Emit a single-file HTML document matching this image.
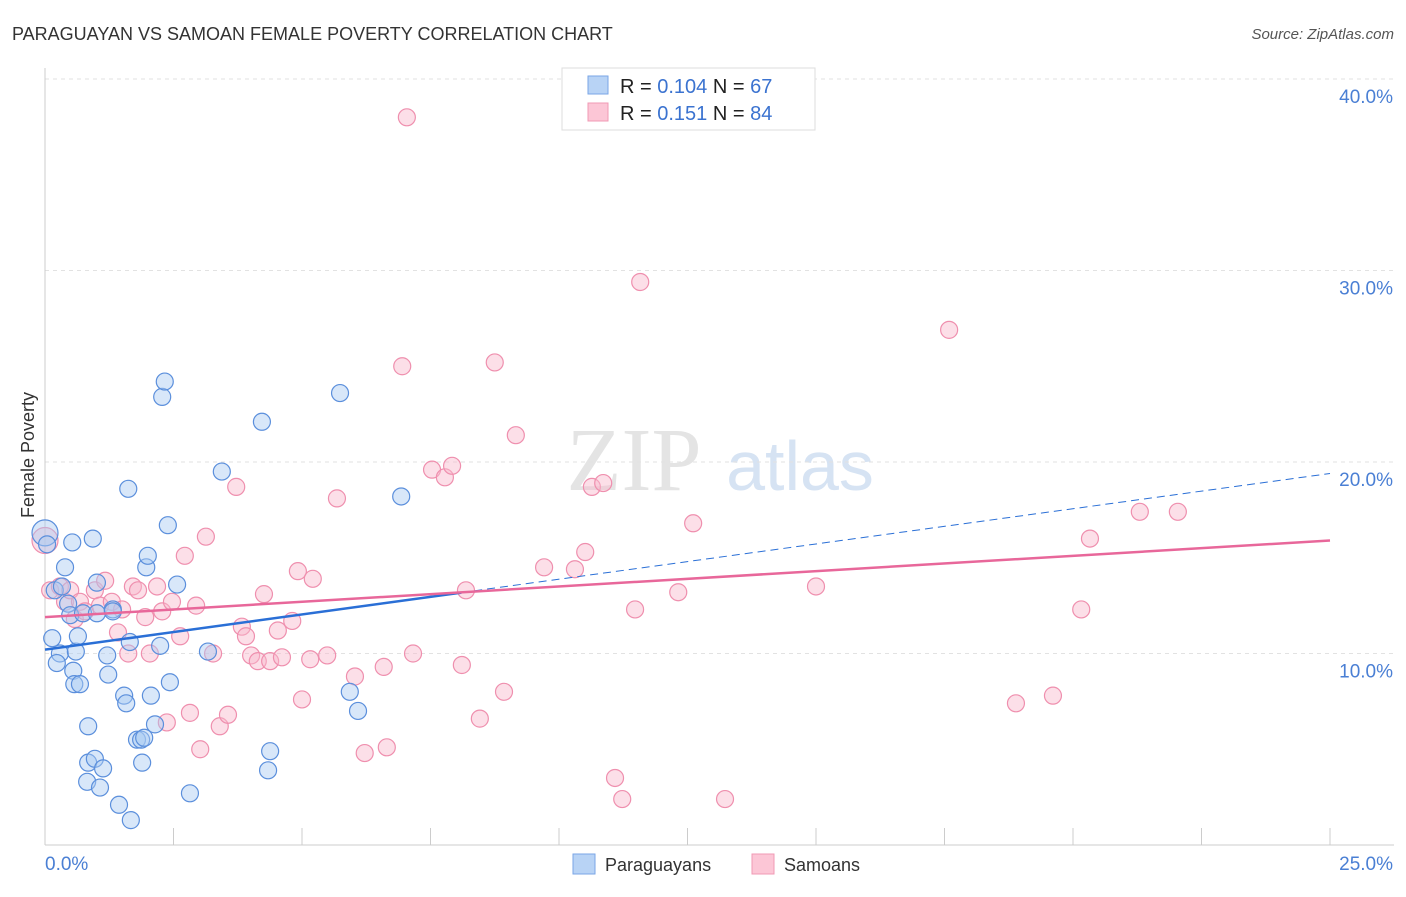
<!DOCTYPE html>
<html><head><meta charset="utf-8"><style>
body{margin:0;background:#fff;font-family:"Liberation Sans",sans-serif}
</style></head><body>
<svg id="c" width="1406" height="892" xmlns="http://www.w3.org/2000/svg" font-family="Liberation Sans, sans-serif">
<text x="12" y="40" font-size="18" fill="#333">PARAGUAYAN VS SAMOAN FEMALE POVERTY CORRELATION CHART</text>
<text x="1394" y="39" font-size="15" fill="#555" font-style="italic" text-anchor="end">Source: ZipAtlas.com</text>
<text x="634" y="490" font-size="90" fill="#e4e4e4" font-family="Liberation Serif, serif" text-anchor="middle">ZIP</text>
<text x="800" y="490" font-size="70" fill="#d6e3f3" text-anchor="middle">atlas</text>
<text transform="translate(34,455) rotate(-90)" font-size="18" fill="#333" text-anchor="middle">Female Poverty</text>
<g id="grid"></g><g id="pts"></g><g id="lines"></g>
<g>
<rect x="562" y="68" width="253" height="62" fill="#fff" stroke="#ddd"/>
<rect x="588" y="76" width="20" height="18" fill="#b8d3f5" stroke="#7aa6e6"/>
<rect x="588" y="103" width="20" height="18" fill="#fcc6d6" stroke="#f09ab4"/>
<text x="620" y="93" font-size="20" fill="#222">R = <tspan fill="#3b73d0">0.104</tspan>   N = <tspan fill="#3b73d0">67</tspan></text>
<text x="620" y="120" font-size="20" fill="#222">R =  <tspan fill="#3b73d0">0.151</tspan>   N = <tspan fill="#3b73d0">84</tspan></text>
</g>
<g>
<rect x="573" y="854" width="22" height="20" fill="#b8d3f5" stroke="#7aa6e6"/>
<text x="605" y="871" font-size="18" fill="#333">Paraguayans</text>
<rect x="752" y="854" width="22" height="20" fill="#fcc6d6" stroke="#f09ab4"/>
<text x="784" y="871" font-size="18" fill="#333">Samoans</text>
</g>
</svg>
<script>
const xTicks=[0,2.5,5,7.5,10,12.5,15,17.5,20,22.5,25];
const yTicks=[10,20,30,40];
const yTickLabels=["10.0%","20.0%","30.0%","40.0%"];
const xEndLabels=["0.0%","25.0%"];
const blueX=[0,0.04,0.19,0.29,0.14,0.23,0.33,0.39,0.45,0.49,0.53,0.55,0.57,0.6,0.64,0.68,0.74,0.84,0.84,0.82,0.93,0.97,1.01,1.01,1.07,1.13,1.21,1.23,1.32,1.44,1.54,1.58,1.62,1.65,1.67,1.79,1.87,1.89,1.93,1.97,2.0,2.06,2.14,2.24,2.28,2.33,2.39,2.43,2.57,2.82,3.17,3.44,4.22,4.34,4.38,5.74,5.93,6.09,6.93,1.32];
const blueY=[16.3,15.7,13.3,10.0,10.8,9.5,13.5,14.5,12.6,12.0,15.8,9.1,8.4,10.1,10.9,8.4,12.1,6.2,4.3,3.3,16.0,4.5,13.7,12.1,3.0,4.0,9.9,8.9,12.3,2.1,7.8,7.4,18.6,10.6,1.3,5.5,5.5,4.3,5.6,14.5,15.1,7.8,6.3,10.4,23.4,24.2,16.7,8.5,13.6,2.7,10.1,19.5,22.1,3.9,4.9,23.6,8.0,7.0,18.2,12.2];
const pinkX=[0,0.1,0.29,0.39,0.49,0.58,0.68,0.78,0.97,1.07,1.17,1.3,1.42,1.5,1.62,1.71,1.81,1.95,2.04,2.18,2.28,2.37,2.47,2.63,2.72,2.82,2.94,3.02,3.13,3.27,3.4,3.56,3.72,3.83,3.91,4.01,4.14,4.26,4.38,4.53,4.61,4.81,4.92,5.0,5.16,5.21,5.49,5.68,6.03,6.22,6.59,6.65,6.95,7.04,7.16,7.53,7.78,7.92,8.11,8.19,8.46,8.75,8.93,9.16,9.71,10.31,10.51,10.64,10.86,11.09,11.23,11.48,11.58,12.32,12.61,13.23,15.0,17.59,18.89,19.61,20.16,20.33,21.3,22.04];
const pinkY=[15.9,13.3,13.5,12.7,13.3,11.8,12.7,12.2,13.3,12.5,13.8,12.7,11.1,12.3,10.0,13.5,13.3,11.9,10.0,13.5,12.2,6.4,12.7,10.9,15.1,6.9,12.5,5.0,16.1,10.0,6.2,6.8,18.7,11.4,10.9,9.9,9.6,13.1,9.6,11.2,9.8,11.7,14.3,7.6,9.7,13.9,9.9,18.1,8.8,4.8,9.3,5.1,25.0,38.0,10.0,19.6,19.2,19.8,9.4,13.3,6.6,25.2,8.0,21.4,14.5,14.4,15.3,18.7,18.9,3.5,2.4,12.3,29.4,13.2,16.8,2.4,13.5,26.9,7.4,7.8,12.3,16.0,17.4,17.4];
const blueFit=[10.2,19.4], pinkFit=[11.9,15.9], blueSolidEnd=8.1;
const X=v=>45+v/25*1285, Y=v=>845-v*19.15;
const NS="http://www.w3.org/2000/svg";
function mk(p,t,a){const e=document.createElementNS(NS,t);for(const k in a)e.setAttribute(k,a[k]);p.appendChild(e);return e;}
const g=document.getElementById('grid'),pts=document.getElementById('pts'),ln=document.getElementById('lines'),svg=document.getElementById('c');
yTicks.forEach((t,i)=>{
 const l=mk(g,'line',{x1:45,x2:1394,y1:Y(t),y2:Y(t),stroke:'#e2e2e2','stroke-dasharray':'4,4'});
 
 
 const tx=mk(g,'text',{x:1393,y:Y(t)+24,'font-size':19,fill:'#4a7fd4','text-anchor':'end'});
 tx.textContent=yTickLabels[i];
 
 
});
const ax=mk(g,'line',{x1:45,x2:1394,y1:845,y2:845,stroke:'#ccc'});


const ay=mk(g,'line',{x1:45,x2:45,y1:68,y2:845,stroke:'#ccc'});


xTicks.forEach(t=>{
 const l=mk(g,'line',{x1:X(t),x2:X(t),y1:828,y2:845,stroke:'#ccc'});
 
 
});
[[0,'start'],[25,'end']].forEach((d,i)=>{
 const tx=mk(g,'text',{x:i?1393:45,y:870,'font-size':19,fill:'#4a7fd4','text-anchor':d[1]});
 tx.textContent=xEndLabels[i];
 
 
});
function dots(xs,ys,fill,stroke,name){xs.forEach((x,i)=>{
 const r=(i===0)?13:8.5;
 const c=mk(pts,'circle',{cx:X(x),cy:Y(ys[i]),r:r,fill:fill,stroke:stroke,'stroke-width':1.2,'fill-opacity':0.45});
 
 
});}
dots(pinkX,pinkY,'#f9b9cc','#ef8fae','samoan-point');
dots(blueX,blueY,'#a9c9f2','#5b8fdc','paraguayan-point');
const fy=(f,x)=>f[0]+(f[1]-f[0])*x/25;
let l1=mk(ln,'line',{x1:X(0),y1:Y(fy(blueFit,0)),x2:X(blueSolidEnd),y2:Y(fy(blueFit,blueSolidEnd)),stroke:'#2a6fd6','stroke-width':2.5});


let l2=mk(ln,'line',{x1:X(blueSolidEnd),y1:Y(fy(blueFit,blueSolidEnd)),x2:X(25),y2:Y(fy(blueFit,25)),stroke:'#2a6fd6','stroke-width':1,'stroke-dasharray':'8,5'});


let l3=mk(ln,'line',{x1:X(0),y1:Y(fy(pinkFit,0)),x2:X(25),y2:Y(fy(pinkFit,25)),stroke:'#e8679a','stroke-width':2.5});


</script>
</body></html>
